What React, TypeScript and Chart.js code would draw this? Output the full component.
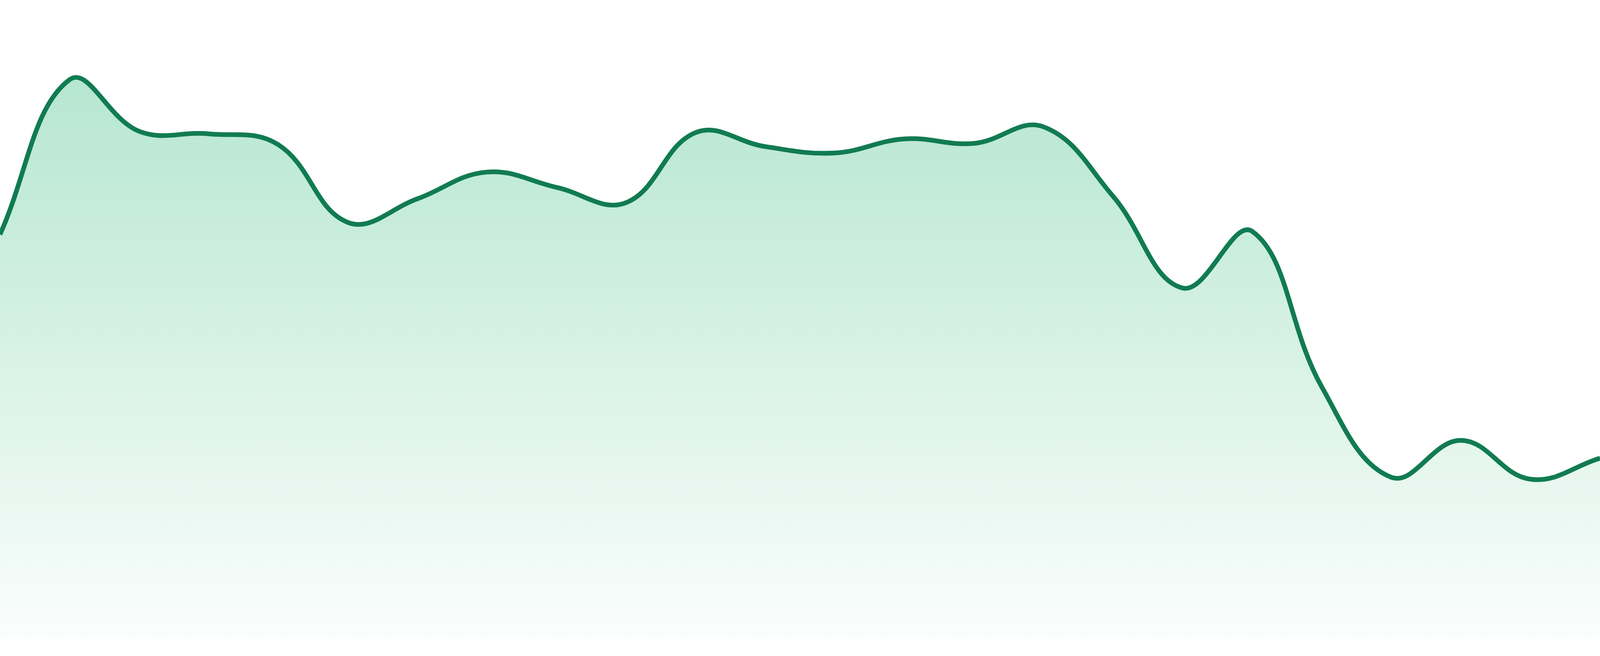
import { useEffect, useRef } from 'react'
import { Chart, registerables } from 'chart.js'

Chart.register(...registerables)

// 24 evenly spaced samples (y axis is hidden, 0-100 range)
const labels = [
  'P1', 'P2', 'P3', 'P4', 'P5', 'P6', 'P7', 'P8', 'P9', 'P10', 'P11', 'P12',
  'P13', 'P14', 'P15', 'P16', 'P17', 'P18', 'P19', 'P20', 'P21', 'P22', 'P23', 'P24',
]
const values = [
  63.2, 87.5, 79.4, 79.0, 77.3, 65.1, 68.8, 73.0, 70.6, 68.2, 79.2, 77.0,
  76.0, 78.2, 77.5, 80.1, 69.2, 54.8, 63.7, 39.3, 25.1, 30.9, 24.8, 28.1,
]
const yMin = 0
const yMax = 100

const lineColor = '#117b52'

export default function App() {
  const canvasRef = useRef<HTMLCanvasElement>(null)
  const chartRef = useRef<Chart | null>(null)

  useEffect(() => {
    if (chartRef.current) chartRef.current.destroy()
    const ctx = canvasRef.current!.getContext('2d')!
    // the reference was 4800x1680; keep stroke and padding proportional to the viewport
    const sx = window.innerWidth / 4800
    const sy = window.innerHeight / 1680

    chartRef.current = new Chart(ctx, {
      type: 'line',
      data: {
        labels,
        datasets: [
          {
            data: values,
            borderColor: lineColor,
            borderWidth: 14 * Math.min(sx, sy),
            tension: 0.4,
            pointRadius: 0,
            pointHoverRadius: 0,
            fill: 'start',
            backgroundColor: (context: any) => {
              const { chart } = context
              const area = chart.chartArea
              if (!area) return 'rgba(18,175,106,0.3)'
              const g = chart.ctx.createLinearGradient(0, area.top, 0, area.bottom)
              g.addColorStop(0, 'rgba(18,175,106,0.35)')
              g.addColorStop(1, 'rgba(18,175,106,0.02)')
              return g
            },
          },
        ],
      },
      options: {
        animation: false,
        responsive: true,
        maintainAspectRatio: false,
        layout: { padding: { top: 0, right: 0, bottom: 48 * sy, left: 0 } },
        plugins: {
          legend: { display: false },
          tooltip: { enabled: false },
        },
        scales: {
          x: { display: false, offset: false },
          y: { display: false, min: yMin, max: yMax },
        },
      },
    })

    return () => {
      if (chartRef.current) {
        chartRef.current.destroy()
        chartRef.current = null
      }
    }
  }, [])

  return (
    <div
      style={{
        position: 'fixed',
        left: 0,
        top: 0,
        width: '100vw',
        height: '100vh',
        background: '#ffffff',
      }}
    >
      <canvas ref={canvasRef} />
    </div>
  )
}
